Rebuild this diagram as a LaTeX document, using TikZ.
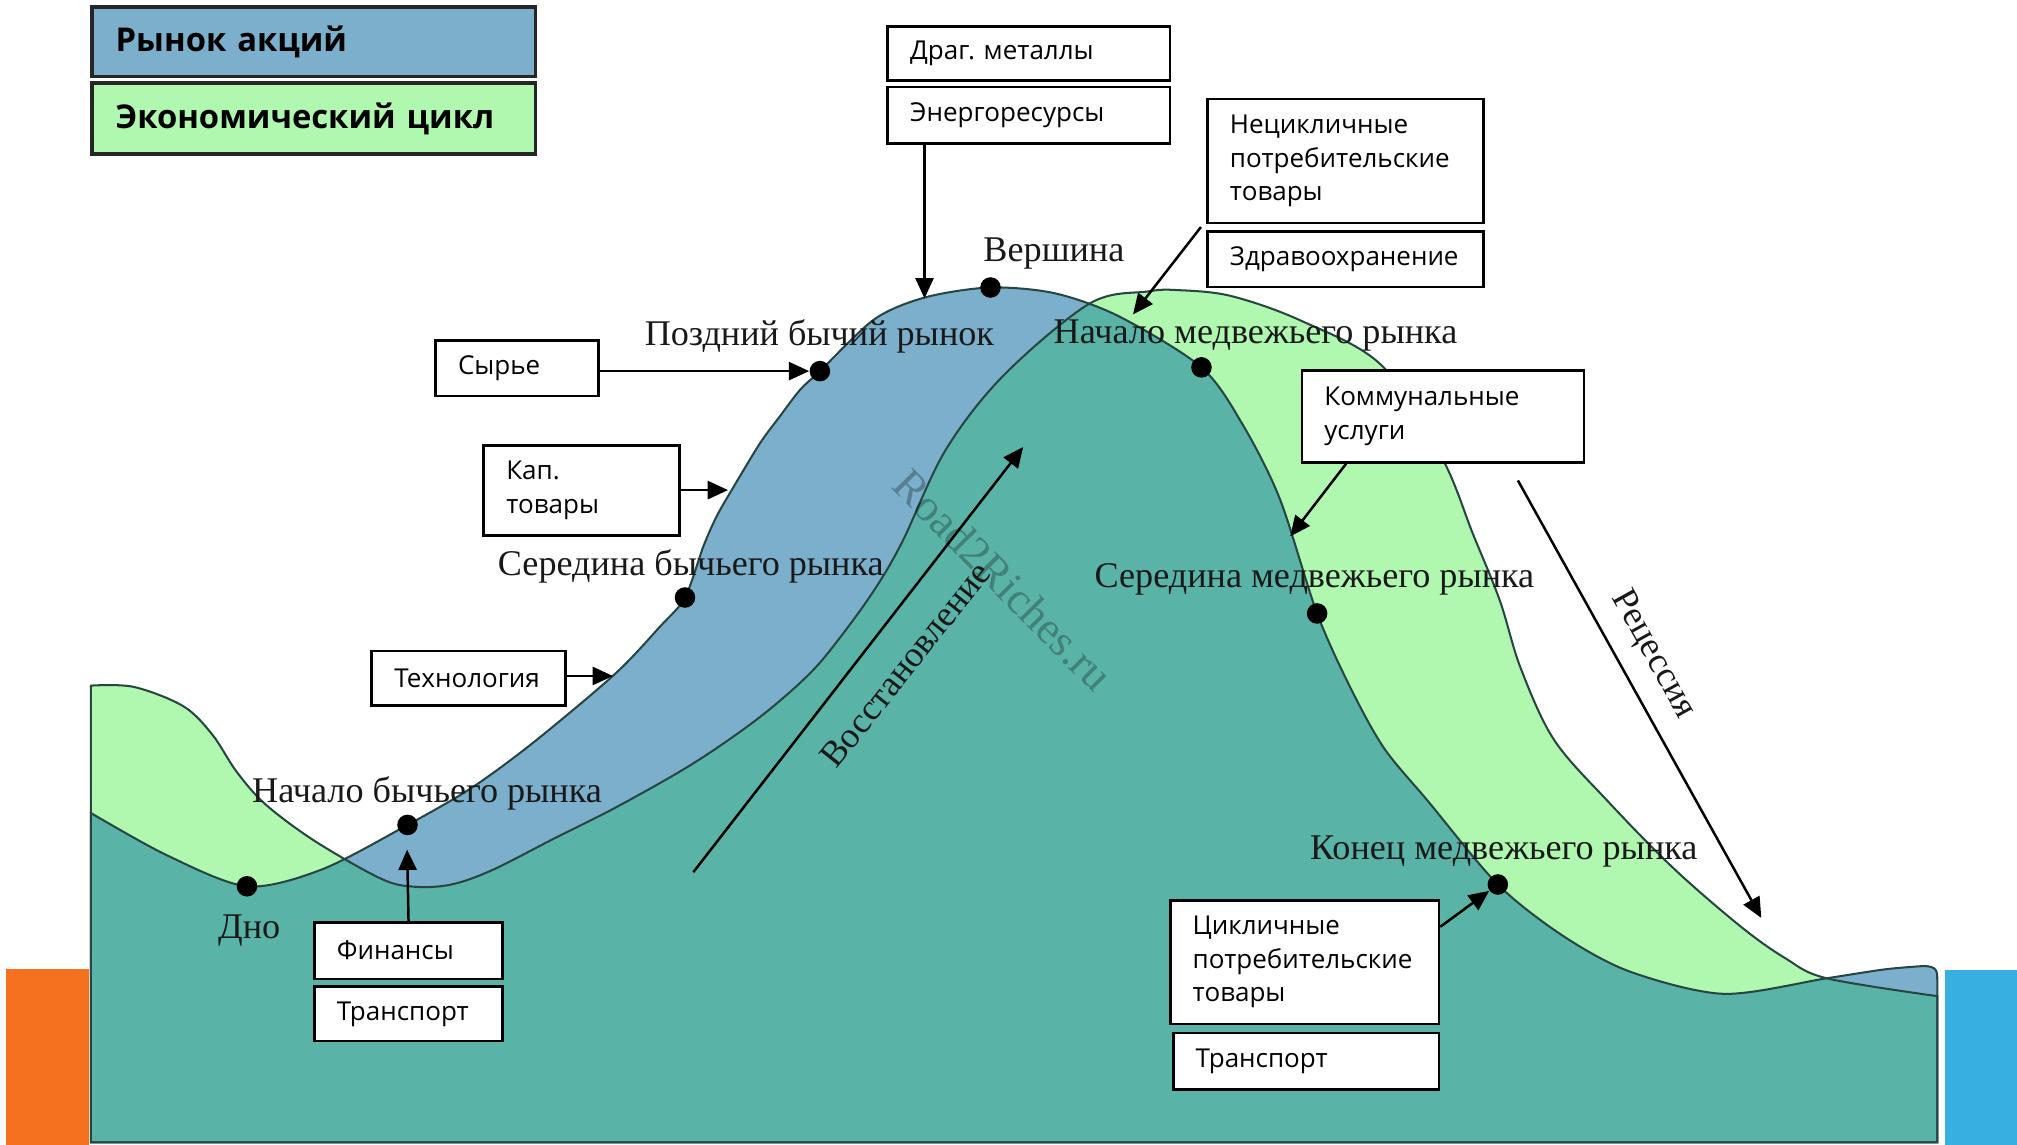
\documentclass[tikz,border=0pt]{standalone}
\usepackage{fontspec}
\newfontfamily\boxfont{Open Sans}
\newfontfamily\serfont{Liberation Serif}
\usetikzlibrary{arrows.meta,calc}
\definecolor{stockblue}{RGB}{124,175,204}
\definecolor{econgreen}{RGB}{176,247,176}
\definecolor{overlap}{RGB}{90,179,167}
\definecolor{curvecol}{RGB}{40,70,65}
\definecolor{barorange}{RGB}{245,112,31}
\definecolor{barblue}{RGB}{56,175,225}
\frenchspacing
\begin{document}
\begin{tikzpicture}[x=0.02cm,y=-0.02cm,
  box/.style={draw=black,line width=1.2pt,fill=white,anchor=north west,inner xsep=0.35cm,inner ysep=0pt,align=left,font={\boxfont\fontsize{11.5}{14.8}\selectfont}},
  leg/.style={draw=black!85,line width=1.6pt,anchor=north west,inner xsep=0.37cm,inner ysep=0pt,align=left,font={\boxfont\bfseries\fontsize{14.5}{17}\selectfont}},
  lbl/.style={font={\serfont\fontsize{16}{18}\selectfont},text=black!90,inner sep=0pt,anchor=base},
  dot/.style={circle,fill=black,inner sep=0pt,minimum size=0.32cm},
  arr/.style={line width=1.1pt,-{Triangle[length=9pt,width=8pt]}},
  curve/.style={draw=curvecol,line width=0.9pt}]
\useasboundingbox (0,0) rectangle (1568,890.1);
% side bars
\fill[barorange] (5,753) rectangle (69,890.1);
\fill[barblue] (1512,754) rectangle (1568,890.1);
% key points on the stock-market curve
\coordinate (pBottom) at (192,689);
\coordinate (pEarly) at (316.8,641.3);
\coordinate (pMid) at (532.5,464.5);
\coordinate (pLate) at (637.4,288.5);
\coordinate (pPeak) at (770,223.5);
\coordinate (pBS) at (934,285.6);
\coordinate (pBM) at (1023.9,476.9);
\coordinate (pBE) at (1164.4,687.6);
\def\econpath{plot[smooth,tension=0.55] coordinates {(70.6,533) (104,534) (142.5,549) (165,571) (184,600) (206.5,625.4) (245,654) (296,683) (321.6,689.3) (350.4,687.7) (382.4,676.5) (430.5,652) (480,627) (539,593.4) (590,558) (629.6,523.5) (655.5,492.4) (681.4,456) (702,420) (735,350) (780,292) (847,236) (892,226.6) (915,225.5) (956.5,230) (1010.7,249) (1074,284) (1121,356) (1145,415) (1166,467) (1182,519) (1208,575) (1250,623) (1301.5,675.5) (1353.6,720.6) (1388,745) (1420,760.5) (1506,774.4)} -- (1506,888) -- (70.6,888) -- cycle}
\def\stockpath{plot[smooth,tension=0.5] coordinates {(70.6,632) (130,665) (pBottom) (250,676) (pEarly) (366.4,612.6) (414.4,577.4) (478,524) (513,487.2) (pMid) (546.7,425) (557,401.6) (568.8,381) (590.8,344.6) (606,324) (622,303) (pLate) (680,248) (720,231) (pPeak) (820,228) (870,246) (pBS) (966,330) (995,388) (pBM) (1050,535) (1076,581.7) (1110.6,623.4) (pBE) (1215,727.5) (1267,755.3) (1340,772.6) (1420,760.5) (1465,753.6) (1495,751)} .. controls (1506,751) and (1506,755) .. (1506,762) -- (1506,888) -- (70.6,888) -- cycle}
\fill[econgreen] \econpath;
\fill[stockblue] \stockpath;
\begin{scope}
  \clip \stockpath;
  \fill[overlap] \econpath;
\end{scope}
\draw[curve] \econpath;
\draw[curve] \stockpath;
% watermark
\node[font={\serfont\fontsize{20}{22}\selectfont},text=black,opacity=0.28,rotate=-45.3] (wm) at (780,451) {Road2Riches.ru};
% legend
\node[leg,fill=stockblue,text width=6.16cm,minimum height=1.08cm] (legS) at (70,4) {Рынок акций};
\node[leg,fill=econgreen,text width=6.16cm,minimum height=1.11cm] (legE) at (70,63) {Экономический цикл};
% boxes
\node[box,text width=3.692cm,minimum height=0.85cm] (drag) at (689,19.3) {Драг. металлы};
\node[box,text width=3.692cm,minimum height=0.88cm] (energ) at (689,66.6) {Энергоресурсы};
\node[box,text width=3.588cm,minimum height=1.928cm] (necikl) at (937.6,76) {Нецикличные\\потребительские\\товары};
\node[box,text width=3.588cm,minimum height=0.866cm] (zdrav) at (937.6,178.7) {Здравоохранение};
\node[box,text width=1.83cm,minimum height=0.864cm] (syr) at (337.5,263.7) {Сырье};
\node[box,text width=2.34cm,minimum height=1.41cm] (kap) at (375,345) {Кап.\\товары};
\node[box,text width=2.308cm,minimum height=0.852cm] (tech) at (288,505) {Технология};
\node[box,text width=2.23cm,minimum height=0.88cm] (fin) at (243.3,716) {Финансы};
\node[box,text width=2.23cm,minimum height=0.846cm] (transL) at (243.3,766) {Транспорт};
\node[box,text width=3.688cm,minimum height=1.43cm] (komm) at (1011,287) {Коммунальные\\услуги};
\node[box,text width=3.48cm,minimum height=1.92cm] (cyc) at (908.6,699) {Цикличные\\потребительские\\товары};
\node[box,text width=3.432cm,minimum height=0.88cm] (transR) at (911,802) {Транспорт};
% curve labels
\node[lbl] (lPeak) at (819.3,203) {Вершина};
\node[lbl] (lLate) at (637,268.5) {Поздний бычий рынок};
\node[lbl] (lBS) at (976,267) {Начало медвежьего рынка};
\node[lbl] (lMid) at (537,447.5) {Середина бычьего рынка};
\node[lbl] (lBM) at (1021.8,457) {Середина медвежьего рынка};
\node[lbl] (lEarly) at (332,623.7) {Начало бычьего рынка};
\node[lbl] (lBottom) at (193.7,729.5) {Дно};
\node[lbl] (lBE) at (1169,668.5) {Конец медвежьего рынка};
\node[lbl,anchor=center,rotate=51.5] (lRec) at (703.6,516.7) {Восстановление};
\node[lbl,anchor=center,rotate=-61] (lRes) at (1285,509) {Рецессия};
% dots
\foreach \p in {pBottom,pEarly,pMid,pLate,pPeak,pBS,pBM,pBE}
  \node[dot] (d\p) at (\p) {};
% arrow targets
\coordinate (tipE) at (718.7,232);
\coordinate (tipN) at (880.8,244.4);
\coordinate (tipK) at (566,381);
\coordinate (tipT) at (476.5,525.5);
\coordinate (tipF) at (316.5,660.5);
\coordinate (tipC) at (1003,417);
\coordinate (resS) at (1180,373.5);
\coordinate (resE) at (1369.2,713.6);
\coordinate (recS) at (539,678);
\coordinate (recE) at (795.4,347.5);
% connectors
\draw[arr] (energ.south -| tipE) -- (tipE);
\draw[arr] ([xshift=-0.08cm,yshift=-0.04cm]necikl.south west) -- (tipN);
\draw[arr] (syr.east |- dpLate) -- (dpLate);
\draw[arr] (kap.east |- tipK) -- (tipK);
\draw[arr] (tech.east |- tipT) -- (tipT);
\draw[arr] (fin.north) -- (tipF);
\draw[arr] ([xshift=0.708cm]komm.south west) -- (tipC);
\draw[arr] ([yshift=-0.43cm]cyc.north east) -- (dpBE);
\draw[arr] (resS) -- (resE);
\draw[arr] (recS) -- (recE);
\end{tikzpicture}
\end{document}
